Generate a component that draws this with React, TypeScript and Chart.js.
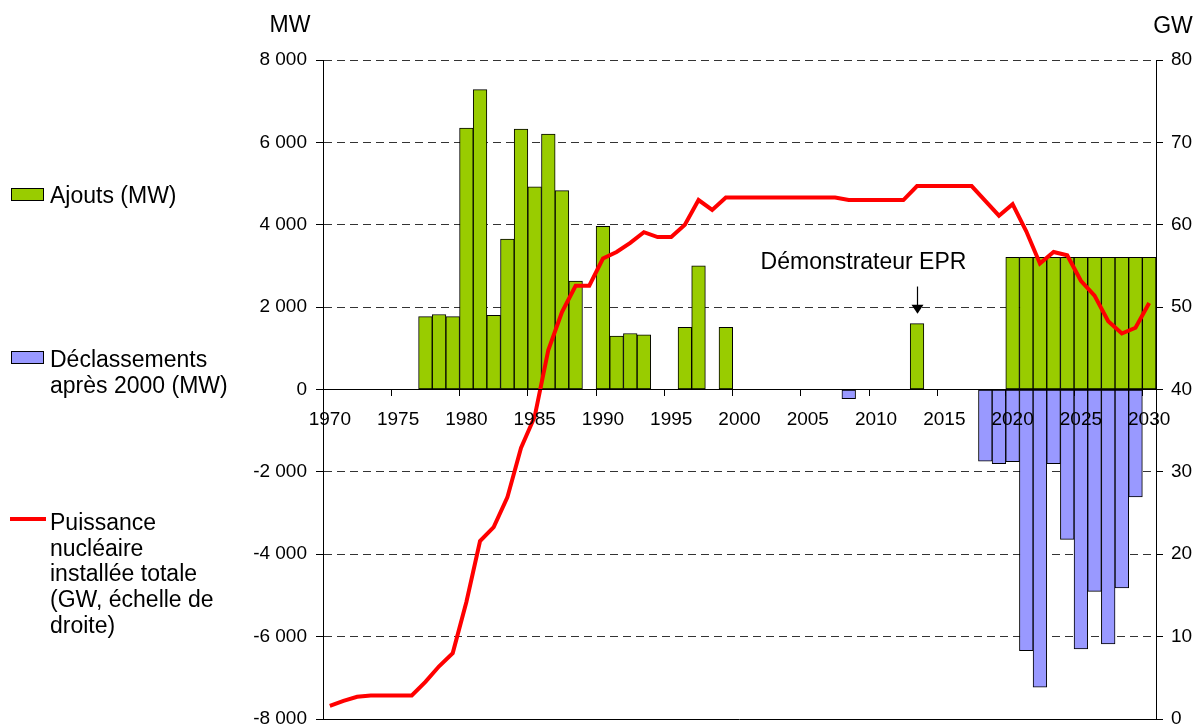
import React, { useEffect, useRef } from 'react';
import { Chart, registerables } from 'chart.js';

Chart.register(...registerables);

const years = [
  '1970', '1971', '1972', '1973', '1974', '1975', '1976', '1977', '1978', '1979',
  '1980', '1981', '1982', '1983', '1984', '1985', '1986', '1987', '1988', '1989',
  '1990', '1991', '1992', '1993', '1994', '1995', '1996', '1997', '1998', '1999',
  '2000', '2001', '2002', '2003', '2004', '2005', '2006', '2007', '2008', '2009',
  '2010', '2011', '2012', '2013', '2014', '2015', '2016', '2017', '2018', '2019',
  '2020', '2021', '2022', '2023', '2024', '2025', '2026', '2027', '2028', '2029',
  '2030',
];

// Ajouts (MW)
const ajouts = [
  null, null, null, null, null, null, null, 1770, 1820, 1770,
  6350, 7280, 1800, 3650, 6320, 4920, 6200, 4830, 2630, null,
  3960, 1300, 1360, 1330, null, null, 1510, 3000, null, 1510,
  null, null, null, null, null, null, null, null, null, null,
  null, null, null, 1600, null, null, null, null, null, null,
  3210, 3210, 3210, 3210, 3210, 3210, 3210, 3210, 3210, 3210,
  3210,
];

// Déclassements après 2000 (MW)
const declassements = [
  null, null, null, null, null, null, null, null, null, null,
  null, null, null, null, null, null, null, null, null, null,
  null, null, null, null, null, null, null, null, null, null,
  null, null, null, null, null, null, null, null, -220, null,
  null, null, null, null, null, null, null, null, -1740, -1800,
  -1750, -6340, -7230, -1800, -3640, -6300, -4900, -6180, -4820, -2610,
  null,
];

// Puissance nucléaire installée totale (GW)
const puissance = [
  1.6, 2.2, 2.7, 2.85, 2.85, 2.85, 2.85, 4.5, 6.4, 8.0,
  14.2, 21.6, 23.3, 26.9, 32.9, 36.7, 44.8, 49.4, 52.6, 52.6,
  55.9, 56.7, 57.8, 59.1, 58.5, 58.5, 60.0, 63.0, 61.8, 63.3,
  63.3, 63.3, 63.3, 63.3, 63.3, 63.3, 63.3, 63.3, 63.0, 63.0,
  63.0, 63.0, 63.0, 64.7, 64.7, 64.7, 64.7, 64.7, 62.9, 61.1,
  62.5, 59.2, 55.3, 56.7, 56.3, 53.2, 51.4, 48.3, 46.8, 47.5,
  50.5,
];

const leftTicks = [-8000, -6000, -4000, -2000, 0, 2000, 4000, 6000, 8000];
const rightTicks = [0, 10, 20, 30, 40, 50, 60, 70, 80];

const legendLabels = {
  ajouts: ['Ajouts (MW)'],
  declassements: ['Déclassements', 'après 2000 (MW)'],
  puissance: ['Puissance', 'nucléaire', 'installée totale', '(GW, échelle de', 'droite)'],
};

const annotationText = 'Démonstrateur EPR';
const annotationYear = '2013';
const annotationArrowTop = 2500;
const annotationArrowTip = 1840;
const annotationTextY = 2930;

const FONT = '"Liberation Sans", Arial, sans-serif';
const GREEN = '#99CC00';
const BLUE = '#9999FF';
const RED = '#FF0000';

const fmt = (v: number) => {
  const s = Math.abs(v).toString();
  const t = s.length > 3 ? s.slice(0, s.length - 3) + ' ' + s.slice(-3) : s;
  return (v < 0 ? '-' : '') + t;
};

const zeroPad = (s: any) => {
  s.paddingTop = 0;
  s.paddingBottom = 0;
  s.paddingLeft = 0;
  s.paddingRight = 0;
};

const decorPlugin = {
  id: 'decor',
  afterDatasetsDraw(chart: any) {
    const { ctx, chartArea } = chart;
    const xs = chart.scales.x;
    const ys = chart.scales.y;
    // Solid bottom frame line
    ctx.save();
    ctx.strokeStyle = '#000';
    ctx.lineWidth = 1;
    ctx.beginPath();
    ctx.moveTo(chartArea.left, Math.round(chartArea.bottom) + 0.5);
    ctx.lineTo(chartArea.right, Math.round(chartArea.bottom) + 0.5);
    ctx.stroke();

    // Annotation
    const ax = Math.round(xs.getPixelForValue(years.indexOf(annotationYear))) + 0.5;
    const top = ys.getPixelForValue(annotationArrowTop);
    const tip = ys.getPixelForValue(annotationArrowTip);
    ctx.lineWidth = 1.2;
    ctx.beginPath();
    ctx.moveTo(ax, top);
    ctx.lineTo(ax, tip - 8);
    ctx.stroke();
    ctx.fillStyle = '#000';
    ctx.beginPath();
    ctx.moveTo(ax - 6, tip - 9);
    ctx.lineTo(ax + 6, tip - 9);
    ctx.lineTo(ax, tip);
    ctx.closePath();
    ctx.fill();
    ctx.font = `23px ${FONT}`;
    ctx.textAlign = 'center';
    ctx.textBaseline = 'alphabetic';
    ctx.fillText(annotationText, ax - 54, ys.getPixelForValue(annotationTextY));
    ctx.restore();
  },
  afterDraw(chart: any) {
    const { ctx, chartArea } = chart;
    ctx.save();
    ctx.fillStyle = '#000';
    ctx.textBaseline = 'middle';
    ctx.textAlign = 'center';
    ctx.font = `23px ${FONT}`;
    ctx.fillText('MW', chartArea.left - 33, 26);
    ctx.fillText('GW', chartArea.right + 17, 27);

    // Legend
    ctx.textAlign = 'left';
    ctx.textBaseline = 'alphabetic';
    ctx.lineWidth = 1;
    ctx.strokeStyle = '#000';
    ctx.fillStyle = GREEN;
    ctx.fillRect(11.5, 188.5, 32, 12);
    ctx.strokeRect(11.5, 188.5, 32, 12);
    ctx.fillStyle = BLUE;
    ctx.fillRect(11.5, 351.5, 32, 12);
    ctx.strokeRect(11.5, 351.5, 32, 12);
    ctx.strokeStyle = RED;
    ctx.lineWidth = 4;
    ctx.beginPath();
    ctx.moveTo(10, 519);
    ctx.lineTo(46, 519);
    ctx.stroke();

    ctx.fillStyle = '#000';
    ctx.font = `23px ${FONT}`;
    legendLabels.ajouts.forEach((t, i) => ctx.fillText(t, 50, 203 + i * 25.7));
    legendLabels.declassements.forEach((t, i) => ctx.fillText(t, 50, 367 + i * 25.7));
    legendLabels.puissance.forEach((t, i) => ctx.fillText(t, 50, 530 + i * 25.7));
    ctx.restore();
  },
};

export default function App() {
  const ref = useRef<HTMLCanvasElement>(null);
  useEffect(() => {
    const chart = new Chart(ref.current!, {
      type: 'bar',
      data: {
        labels: years,
        datasets: [
          {
            type: 'line',
            label: 'Puissance nucléaire installée totale (GW, échelle de droite)',
            data: puissance,
            yAxisID: 'y1',
            borderColor: RED,
            backgroundColor: RED,
            borderWidth: 4,
            pointRadius: 0,
            tension: 0,
            order: 0,
          } as any,
          {
            label: 'Ajouts (MW)',
            data: ajouts,
            backgroundColor: GREEN,
            borderColor: '#000',
            borderWidth: 1,
            borderSkipped: false,
            categoryPercentage: 1,
            barPercentage: 1,
            stack: 's',
            yAxisID: 'y',
            order: 1,
          },
          {
            label: 'Déclassements après 2000 (MW)',
            data: declassements,
            backgroundColor: BLUE,
            borderColor: '#000',
            borderWidth: 1,
            borderSkipped: false,
            categoryPercentage: 1,
            barPercentage: 1,
            stack: 's',
            yAxisID: 'y',
            order: 2,
          },
        ],
      },
      options: {
        responsive: false,
        animation: false,
        devicePixelRatio: 1,
        layout: { padding: { top: 60, bottom: 9, left: 0, right: 0 } },
        plugins: { legend: { display: false }, tooltip: { enabled: false } },
        scales: {
          x: {
            type: 'category',
            stacked: true,
            offset: true,
            position: { y: 0 } as any,
            afterFit: zeroPad,
            grid: {
              offset: true,
              drawOnChartArea: false,
              drawTicks: true,
              tickLength: 6,
              z: 1,
              color: (c: any) => (c.index % 5 === 0 ? '#000' : 'rgba(0,0,0,0)'),
            },
            border: { display: true, color: '#000', width: 1, z: 1 },
            ticks: {
              z: 1,
              autoSkip: false,
              maxRotation: 0,
              minRotation: 0,
              padding: 13,
              color: '#000',
              font: { family: FONT, size: 19 },
              callback: function (this: any, val: any, idx: number) {
                return idx % 5 === 0 ? this.getLabelForValue(val) : '';
              },
            },
          },
          y: {
            position: 'left',
            stacked: true,
            min: -8000,
            max: 8000,
            afterBuildTicks: (s: any) => {
              s.ticks = leftTicks.map((v) => ({ value: v }));
            },
            afterFit: (s: any) => {
              s.width = 323;
              zeroPad(s);
            },
            grid: {
              color: (c: any) => (c.tick && c.tick.value === 0 ? 'rgba(0,0,0,0)' : '#333'),
              lineWidth: 1,
              tickLength: 7,
              tickColor: '#000',
              tickBorderDash: [],
            },
            border: { display: true, color: '#000', width: 1, dash: [8, 5] },
            ticks: {
              padding: 9,
              color: '#000',
              font: { family: FONT, size: 19 },
              callback: (v: any) => fmt(Number(v)),
            },
          },
          y1: {
            position: 'right',
            min: 0,
            max: 80,
            afterBuildTicks: (s: any) => {
              s.ticks = rightTicks.map((v) => ({ value: v }));
            },
            afterFit: (s: any) => {
              s.width = 41;
              zeroPad(s);
            },
            grid: {
              drawOnChartArea: false,
              drawTicks: true,
              tickLength: 7,
              color: '#000',
              tickColor: '#000',
            },
            border: { display: true, color: '#000', width: 1 },
            ticks: {
              padding: 8,
              color: '#000',
              font: { family: FONT, size: 19 },
              callback: (v: any) => String(v),
            },
          },
        },
      },
      plugins: [decorPlugin],
    } as any);
    return () => chart.destroy();
  }, []);
  return (
    <div style={{ position: 'fixed', left: 0, top: 0, width: 1197, height: 728, background: '#fff' }}>
      <canvas ref={ref} width={1197} height={728} style={{ display: 'block', width: 1197, height: 728 }} />
    </div>
  );
}
